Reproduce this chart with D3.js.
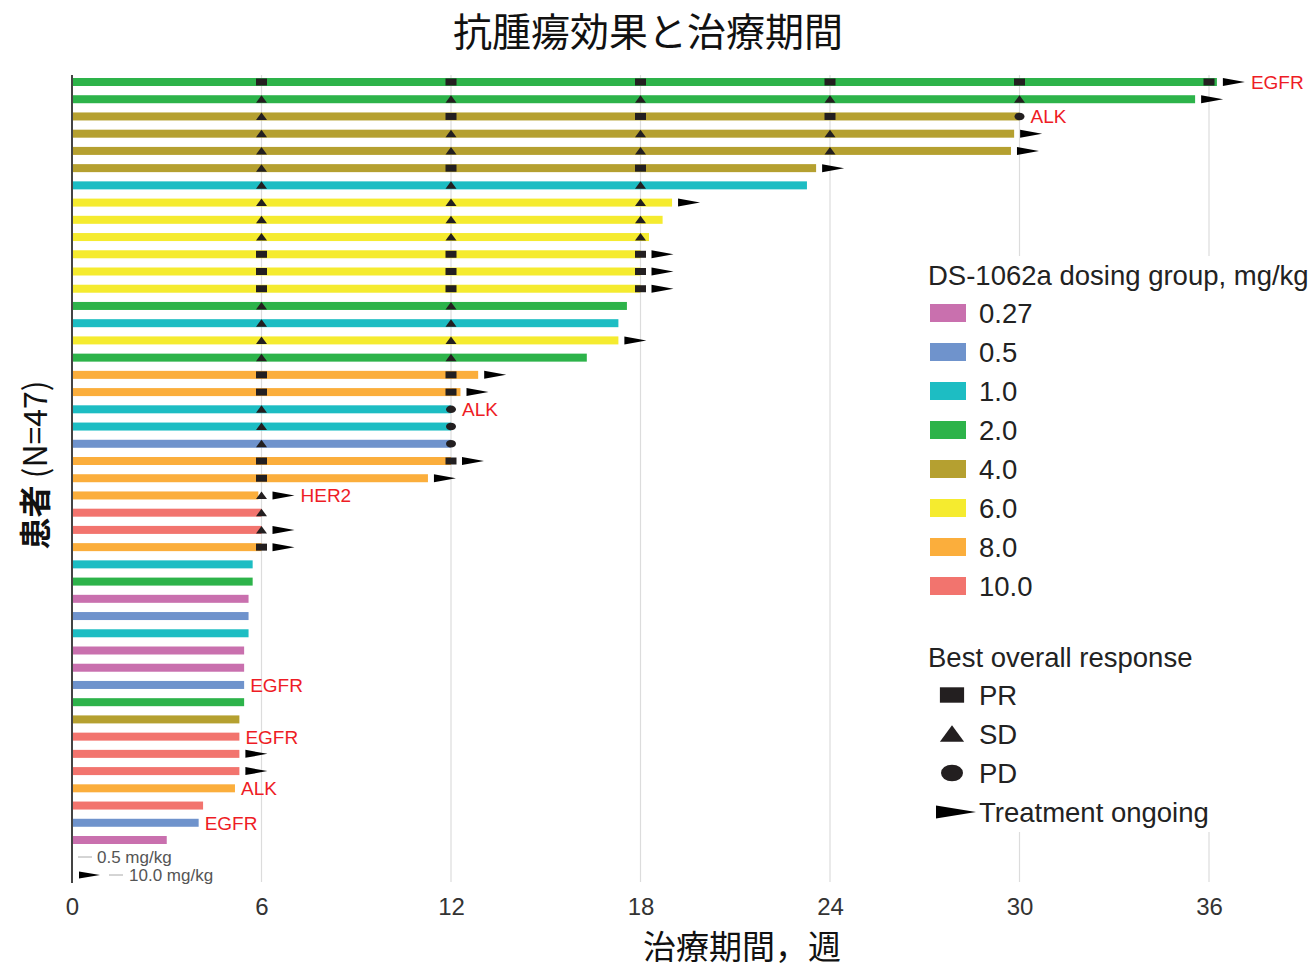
<!DOCTYPE html>
<html>
<head>
<meta charset="utf-8">
<script src="https://cdn.jsdelivr.net/npm/d3@7"></script>
<style>
  body { margin: 0; background: #fff; }
  text { font-family: "Liberation Sans", Arial, sans-serif; }
  .jp { font-family: "Noto Sans CJK JP", "Noto Sans", sans-serif; }
</style>
</head>
<body>
<div id="chart"></div>
<script>
// dosing groups and colours
var doseLevels = ["0.27", "0.5", "1.0", "2.0", "4.0", "6.0", "8.0", "10.0"];
var doseColors = ["#c970ae", "#6f93cc", "#1dbdc3", "#2db34a", "#b5a030", "#f5eb2f", "#fbae3c", "#f2746e"];

// one entry per patient, top to bottom
var patientDose = ["2.0","2.0","4.0","4.0","4.0","4.0","1.0","6.0","6.0","6.0",
                   "6.0","6.0","6.0","2.0","1.0","6.0","2.0","8.0","8.0","1.0",
                   "1.0","0.5","8.0","8.0","8.0","10.0","10.0","8.0","1.0","2.0",
                   "0.27","0.5","1.0","0.27","0.27","0.5","2.0","4.0","10.0","10.0",
                   "10.0","8.0","10.0","0.5","0.27"];
var weeksOnTreatment = [36.25, 35.56, 30.0, 29.83, 29.73, 23.56, 23.27, 19.0, 18.7, 18.27,
                        18.0, 18.0, 18.0, 17.57, 17.3, 17.3, 16.3, 12.86, 12.3, 12.0,
                        12.0, 12.0, 12.0, 11.27, 5.9, 6.0, 6.0, 6.0, 5.72, 5.72,
                        5.59, 5.59, 5.59, 5.45, 5.45, 5.45, 5.45, 5.3, 5.3, 5.3,
                        5.3, 5.16, 4.15, 4.01, 3.0];
// response at each 6-week assessment
var assessmentWeeks = [6, 12, 18, 24, 30, 36];
var responses = [
  ["PR","PR","PR","PR","PR","PR"], ["SD","SD","SD","SD","SD"], ["SD","PR","PR","PR","PD"],
  ["SD","SD","SD","SD"], ["SD","SD","SD","SD"], ["SD","PR","PR"], ["SD","SD","SD"],
  ["SD","SD","SD"], ["SD","SD","SD"], ["SD","SD","SD"], ["PR","PR","PR"], ["PR","PR","PR"],
  ["PR","PR","PR"], ["SD","SD"], ["SD","SD"], ["SD","SD"], ["SD","SD"], ["PR","PR"],
  ["PR","PR"], ["SD","PD"], ["SD","PD"], ["SD","PD"], ["PR","PR"], ["PR"], ["SD"], ["SD"],
  ["SD"], ["PR"], [], [], [], [], [], [], [], [], [], [], [], [], [], [], [], [], []
];
var ongoing = [1,1,0,1,1,1,0,1,0,0, 1,1,1,0,0,1,0,1,1,0, 0,0,1,1,1,0,1,1,0,0,
               0,0,0,0,0,0,0,0,0,1, 1,0,0,0,0];
var mutation = ["EGFR","","ALK","","","","","","","", "","","","","","","","","","ALK",
                "","","","","HER2","","","","","", "","","","","","EGFR","","","EGFR","",
                "","ALK","","EGFR",""];

var xTicks = [0, 6, 12, 18, 24, 30, 36];

var svg = d3.select("#chart").append("svg")
    .attr("width", 1315)
    .attr("height", 969);

var xScale = d3.scaleLinear().domain([0, 36]).range([72, 1209]);
var rows = d3.range(patientDose.length);
var yScale = d3.scalePoint().domain(rows).range([82, 840]);
var color = d3.scaleOrdinal().domain(doseLevels).range(doseColors);

// gridlines
svg.selectAll(".grid")
    .data(xTicks.slice(1))
    .enter().append("line")
    .attr("x1", function(d) { return xScale(d); })
    .attr("x2", function(d) { return xScale(d); })
    .attr("y1", 75).attr("y2", 882)
    .attr("stroke", "#dcdcdc").attr("stroke-width", 1.2);

// y axis line
svg.append("line")
    .attr("x1", 72).attr("x2", 72).attr("y1", 75).attr("y2", 883)
    .attr("stroke", "#444").attr("stroke-width", 2);

// bars
svg.selectAll(".bar")
    .data(rows)
    .enter().append("rect")
    .attr("x", 73)
    .attr("y", function(i) { return yScale(i) - 4; })
    .attr("width", function(i) { return xScale(weeksOnTreatment[i]) - 73; })
    .attr("height", 8)
    .attr("fill", function(i) { return color(patientDose[i]); });

// response markers
var markers = [];
rows.forEach(function(i) {
  responses[i].forEach(function(r, k) {
    markers.push({row: i, week: assessmentWeeks[k], resp: r});
  });
});
function drawMarker(g, type, cx, cy, s) {
  if (type === "PR") {
    g.append("rect").attr("x", cx - 5.5 * s).attr("y", cy - 3.5 * s)
      .attr("width", 11 * s).attr("height", 7 * s).attr("fill", "#231f20");
  } else if (type === "SD") {
    g.append("path").attr("d", "M" + (cx - 5.5 * s) + "," + (cy + 3.5 * s) +
      "L" + cx + "," + (cy - 4 * s) + "L" + (cx + 5.5 * s) + "," + (cy + 3.5 * s) + "Z")
      .attr("fill", "#231f20");
  } else if (type === "PD") {
    g.append("ellipse").attr("cx", cx).attr("cy", cy)
      .attr("rx", 5 * s).attr("ry", 3.8 * s).attr("fill", "#231f20");
  }
}
function drawArrow(g, x0, cy, len, h) {
  g.append("path")
    .attr("d", "M" + x0 + "," + (cy - h / 2) + "L" + (x0 + len) + "," + cy +
      "L" + x0 + "," + (cy + h / 2) + "Z")
    .attr("fill", "#000");
}
var markG = svg.append("g");
markers.forEach(function(m) {
  drawMarker(markG, m.resp, xScale(m.week), yScale(m.row), 1);
});

// ongoing arrows and mutation labels
rows.forEach(function(i) {
  var end = xScale(weeksOnTreatment[i]);
  if (responses[i].length) {
    end = Math.max(end, xScale(assessmentWeeks[responses[i].length - 1]) + 5);
  }
  if (ongoing[i]) {
    drawArrow(markG, end + 6, yScale(i), 22, 8);
    end = end + 28;
  }
  if (mutation[i]) {
    svg.append("text")
      .attr("x", end + 6)
      .attr("y", yScale(i) + 7)
      .attr("fill", "#ee1c25")
      .attr("font-size", 19)
      .text(mutation[i]);
  }
});

// footnote rows
svg.append("line").attr("x1", 78).attr("x2", 92).attr("y1", 857).attr("y2", 857)
    .attr("stroke", "#aaa");
svg.append("text").attr("x", 97).attr("y", 863).attr("font-size", 17).attr("fill", "#555")
    .text("0.5 mg/kg");
drawArrow(svg, 79, 875, 21, 7);
svg.append("line").attr("x1", 109).attr("x2", 123).attr("y1", 875).attr("y2", 875)
    .attr("stroke", "#aaa");
svg.append("text").attr("x", 129).attr("y", 881).attr("font-size", 17).attr("fill", "#555")
    .text("10.0 mg/kg");

// legend background hides the gridlines behind it
svg.append("rect").attr("x", 918).attr("y", 256).attr("width", 397).attr("height", 576)
    .attr("fill", "#fff");

// x axis
var xAxis = svg.append("g")
    .attr("transform", "translate(0,883)")
    .call(d3.axisBottom(xScale).tickValues(xTicks).tickSize(0).tickPadding(15));
xAxis.select(".domain").remove();
xAxis.selectAll("text")
    .attr("font-size", 24)
    .attr("fill", "#333")
    .attr("font-family", "Liberation Sans, Arial, sans-serif");

// titles
svg.append("text").attr("class", "jp")
    .attr("x", 648).attr("y", 46)
    .attr("text-anchor", "middle").attr("font-size", 39).attr("fill", "#111")
    .text("抗腫瘍効果と治療期間");
svg.append("text").attr("class", "jp")
    .attr("x", 742).attr("y", 959)
    .attr("text-anchor", "middle").attr("font-size", 33).attr("fill", "#111")
    .text("治療期間，週");
var yTitle = svg.append("text").attr("class", "jp")
    .attr("transform", "translate(47,465) rotate(-90)")
    .attr("text-anchor", "middle").attr("font-size", 32).attr("fill", "#111");
yTitle.append("tspan").attr("font-weight", "bold").text("患者");
yTitle.append("tspan").text(" (N=47)");

// dose legend
svg.append("text").attr("x", 928).attr("y", 285).attr("font-size", 27.5).attr("fill", "#222")
    .text("DS-1062a dosing group, mg/kg");
var doseLeg = svg.selectAll(".doseLeg")
    .data(doseLevels)
    .enter().append("g")
    .attr("transform", function(d, i) { return "translate(930," + (313 + i * 39) + ")"; });
doseLeg.append("rect").attr("x", 0).attr("y", -9).attr("width", 36).attr("height", 18)
    .attr("fill", function(d) { return color(d); });
doseLeg.append("text").attr("x", 49).attr("y", 10).attr("font-size", 27.5).attr("fill", "#222")
    .text(function(d) { return d; });

// response legend
svg.append("text").attr("x", 928).attr("y", 667).attr("font-size", 27.5).attr("fill", "#222")
    .text("Best overall response");
var respLabels = ["PR", "SD", "PD", "Treatment ongoing"];
respLabels.forEach(function(r, i) {
  var cy = 695 + i * 39;
  if (i < 3) drawMarker(svg, r, 952, cy, 2.2);
  else drawArrow(svg, 936, cy, 40, 13);
  svg.append("text").attr("x", 979).attr("y", cy + 10).attr("font-size", 27.5).attr("fill", "#222")
    .text(r);
});
</script>
</body>
</html>
